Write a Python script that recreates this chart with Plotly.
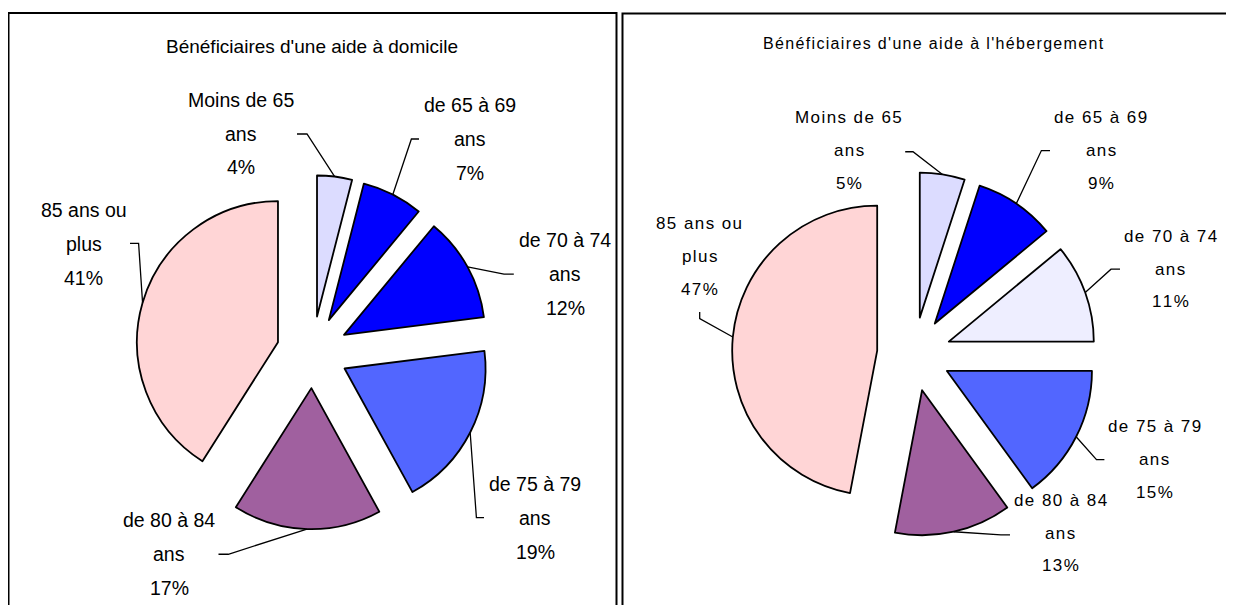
import math
import plotly.graph_objects as go

W, H = 1234, 605
OFF = 8  # the page body adds an 8px margin, so positions are shifted back by it
YS = 0.981  # vertical correction of the measured positions

# ---- data ----
categories = ["Moins de 65 ans", "de 65 à 69 ans", "de 70 à 74 ans",
              "de 75 à 79 ans", "de 80 à 84 ans", "85 ans ou plus"]
label_lines = [["Moins de 65", "ans"], ["de 65 à 69", "ans"], ["de 70 à 74", "ans"],
               ["de 75 à 79", "ans"], ["de 80 à 84", "ans"], ["85 ans ou", "plus"]]
domicile = [4, 7, 12, 19, 17, 41]
hebergement = [5, 9, 11, 15, 13, 47]
title_domicile = "Bénéficiaires d'une aide à domicile"
title_hebergement = "Bénéficiaires d'une aide à l'hébergement"

colors_domicile = ["#DCDCFF", "#0000FF", "#0000FF", "#5266FF", "#A0609F", "#FFD5D6"]
colors_hebergement = ["#DCDCFF", "#0000FF", "#EEEEFF", "#5266FF", "#A0609F", "#FFD5D6"]

FONT = "Liberation Sans, Arial, sans-serif"

# ---- layout (pixel positions in the screenshot) ----
panels = [
    dict(values=domicile, colors=colors_domicile, title=title_domicile,
         cx=312.5, cy=359, r=141, pull=0.255,
         title_xy=(312, 46.5), font=19.5, title_font=19, spacing=34.6, spaced=False,
         labels=[(241, 101.5), (470, 107), (565, 245), (535, 493), (169, 530), (83.5, 214)],
         ticks=[((297, 136.6), (307, 136.6)), ((419, 141.7), (411.4, 141.7)),
                ((513.8, 279.5), (504, 279.5)), ((484, 527.6), (476.4, 527.6)),
                ((218.5, 565), (228.3, 565)), ((130, 248), (138.6, 248))]),
    dict(values=hebergement, colors=colors_hebergement, title=title_hebergement,
         cx=914, cy=361, r=145, pull=0.255,
         title_xy=(933, 43.5), font=17, title_font=16, spacing=33.4, spaced=True,
         labels=[(849, 120), (1100.5, 120), (1170, 241), (1154, 435), (1060, 510), (699, 228.3)],
         ticks=[((905.2, 154.7), (913, 154.7)), ((1050, 153.5), (1041.4, 153.5)),
                ((1120, 274.4), (1111, 274.4)), ((1104.4, 468.5), (1096.5, 468.5)),
                ((1010, 545.3), (1000.9, 545.3)), ((699.7, 318), (699.7, 324.8))]),
]


def px(x, y):
    return (x - OFF) / W, 1 - (y - OFF) / H


def spread(s):
    return "\u200a".join(s)


def attach(values, i, cx, cy, r, pull):
    tot = sum(values)
    mid = math.radians((sum(values[:i]) + values[i] / 2) / tot * 360)
    dx, dy = math.sin(mid), -math.cos(mid)
    return cx + (1 + pull) * r * dx, cy + (1 + pull) * r * dy


fig = go.Figure()
annotations = []
shapes = []

for p in panels:
    cx, cy, r = p["cx"], p["cy"] * YS, p["r"]
    half = r * (1 + p["pull"])
    x0d, y1d = px(cx - half, cy - half)
    x1d, y0d = px(cx + half, cy + half)
    fig.add_trace(go.Pie(
        labels=categories, values=p["values"], sort=False,
        direction="clockwise", rotation=0,
        pull=[p["pull"]] * len(p["values"]),
        marker=dict(colors=p["colors"], line=dict(color="black", width=1.8)),
        textinfo="none", hoverinfo="label+percent", showlegend=False,
        domain=dict(x=[x0d, x1d], y=[y0d, y1d]),
    ))

    fmt = spread if p["spaced"] else (lambda s: s)
    tx, ty = px(*p["title_xy"])
    annotations.append(dict(x=tx, y=ty, xref="paper", yref="paper", showarrow=False,
                            text=fmt(p["title"]), xanchor="center", yanchor="middle",
                            font=dict(family=FONT, size=p["title_font"], color="black")))

    for i, v in enumerate(p["values"]):
        lx, ly = p["labels"][i]
        lines = label_lines[i] + [f"{v}%"]
        for k, line in enumerate(lines):
            ax, ay = px(lx, (ly + k * p["spacing"]) * YS)
            annotations.append(dict(x=ax, y=ay, xref="paper", yref="paper", showarrow=False,
                                    text=fmt(line), xanchor="center", yanchor="middle",
                                    font=dict(family=FONT, size=p["font"], color="black")))
        (a0, b0), (a1, b1) = p["ticks"][i]
        a2, b2 = attach(p["values"], i, cx, cy, r, p["pull"])
        pts = [px(a0, b0 * YS), px(a1, b1 * YS), px(a2, b2)]
        path = "M " + " L ".join(f"{a:.5f},{b:.5f}" for a, b in pts)
        shapes.append(dict(type="path", xref="paper", yref="paper", path=path,
                           line=dict(color="black", width=1.3)))

# panel frames
frames = [[(8.5, 620), (8.5, 13), (616.5, 13), (616.5, 620)],
          [(622.5, 620), (622.5, 13.5), (1250, 13.5)]]
for fr in frames:
    path = "M " + " L ".join(f"{a:.5f},{b:.5f}" for a, b in (px(*q) for q in fr))
    shapes.append(dict(type="path", xref="paper", yref="paper", path=path,
                       line=dict(color="black", width=2)))

fig.update_layout(
    width=W, height=H,
    margin=dict(l=0, r=0, t=0, b=0),
    paper_bgcolor="white", plot_bgcolor="white",
    annotations=annotations, shapes=shapes,
)

fig.write_html("out.html")
